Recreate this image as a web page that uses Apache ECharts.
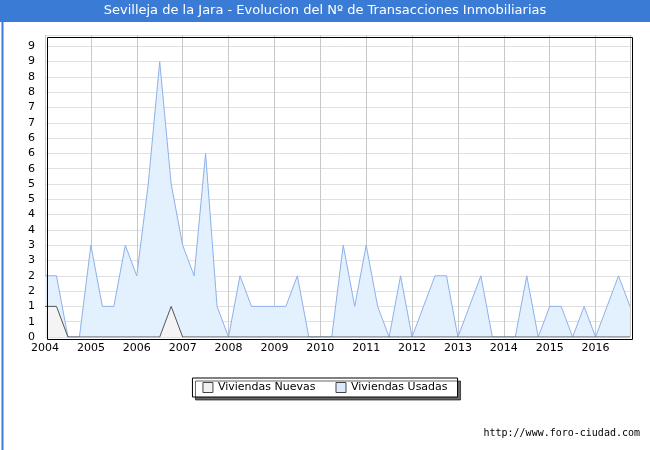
<!DOCTYPE html>
<html><head><meta charset="utf-8">
<script src="https://cdn.jsdelivr.net/npm/echarts@6/dist/echarts.min.js"></script>
<style>html,body{margin:0;padding:0;background:#fff}#c{width:650px;height:450px}</style>
</head><body><div id="c"></div>
<script>
var startYear = 2004;
var yTickLabels = ['0','1','1','2','2','3','3','4','4','5','5','6','6','6','7','7','8','8','9','9'];
var usadas = [2,2,0,0, 3,1,1,3, 2,5,9,5, 3,2,6,1, 0,2,1,1, 1,1,2,0, 0,0,3,1, 3,1,0,2, 0,1,2,2, 0,1,2,0, 0,0,2,0, 1,1,0,1, 0,1,2,1];
var nuevas = [1,1,0,0, 0,0,0,0, 0,0,0,1, 0,0,0,0, 0,0,0,0, 0,0,0,0, 0,0,0,0, 0,0,0,0, 0,0,0,0, 0,0,0,0, 0,0,0,0, 0,0,0,0, 0,0,0,0];
function pts(a){return a.map(function(v,i){return [startYear+i/4, v];});}
var chart = echarts.init(document.getElementById('c'));
chart.setOption({
  animation:false,
  graphic:[
    {type:'rect',left:0,top:0,shape:{width:650,height:450},style:{fill:'none',stroke:'#3a7bd5',lineWidth:2},silent:true},
    {type:'rect',left:0,top:0,shape:{width:650,height:22},style:{fill:'#3a7bd5'}},
    {type:'text',left:'center',top:4,style:{text:'Sevilleja de la Jara - Evolucion del Nº de Transacciones Inmobiliarias',fill:'#fff',font:'13px Verdana, "DejaVu Sans", sans-serif'}},
    {type:'text',right:10,top:428,style:{text:'http://www.foro-ciudad.com',fill:'#000',font:'10px "DejaVu Sans Mono", monospace'}},
    {type:'rect',left:45,top:35,shape:{width:585,height:302},style:{fill:'none',stroke:'#000',lineWidth:1},z:10,silent:true}
  ],
  legend:{top:378,left:'center',itemWidth:10,itemHeight:10,itemGap:20,borderColor:'#000',borderWidth:1,padding:[4,10],
    shadowColor:'rgba(0,0,0,0.6)',shadowOffsetX:3,shadowOffsetY:3,backgroundColor:'#fff',
    textStyle:{fontFamily:'Verdana, "DejaVu Sans", sans-serif',fontSize:11,color:'#000'},
    data:[{name:'Viviendas Nuevas',icon:'rect',itemStyle:{color:'#f2f2f2',borderColor:'#444',borderWidth:1}},
          {name:'Viviendas Usadas',icon:'rect',itemStyle:{color:'#dbe9fb',borderColor:'#444',borderWidth:1}}]},
  grid:{left:45,right:20,top:35,bottom:113},
  xAxis:{type:'value',min:2004,max:2016.75,interval:1,
    axisLine:{show:false},axisTick:{show:false},
    axisLabel:{color:'#000',fontSize:11,fontFamily:'Verdana, "DejaVu Sans", sans-serif',showMaxLabel:false,margin:6,
      formatter:function(v){return String(Math.round(v));}},
    splitLine:{show:true,lineStyle:{color:'#c8c8c8'}}},
  yAxis:{type:'value',min:0,max:9.87,interval:0.5,
    axisLine:{show:false},axisTick:{show:false},
    axisLabel:{color:'#000',fontSize:11,fontFamily:'Verdana, "DejaVu Sans", sans-serif',showMaxLabel:false,margin:10,
      formatter:function(v){var i=Math.round(v*2);return yTickLabels[i]!==undefined?yTickLabels[i]:'';}},
    splitLine:{show:true,lineStyle:{color:'#e0e0e0'}}},
  series:[
    {name:'Viviendas Usadas',type:'line',data:pts(usadas),symbol:'none',z:2,
     lineStyle:{color:'#8eb0ea',width:1},itemStyle:{color:'#dbe9fb'},areaStyle:{color:'#e3f0fd',opacity:1}},
    {name:'Viviendas Nuevas',type:'line',data:pts(nuevas),symbol:'none',z:3,
     lineStyle:{color:'#555',width:1},itemStyle:{color:'#f2f2f2'},areaStyle:{color:'#f4f4f4',opacity:1}}
  ]
});
</script></body></html>
